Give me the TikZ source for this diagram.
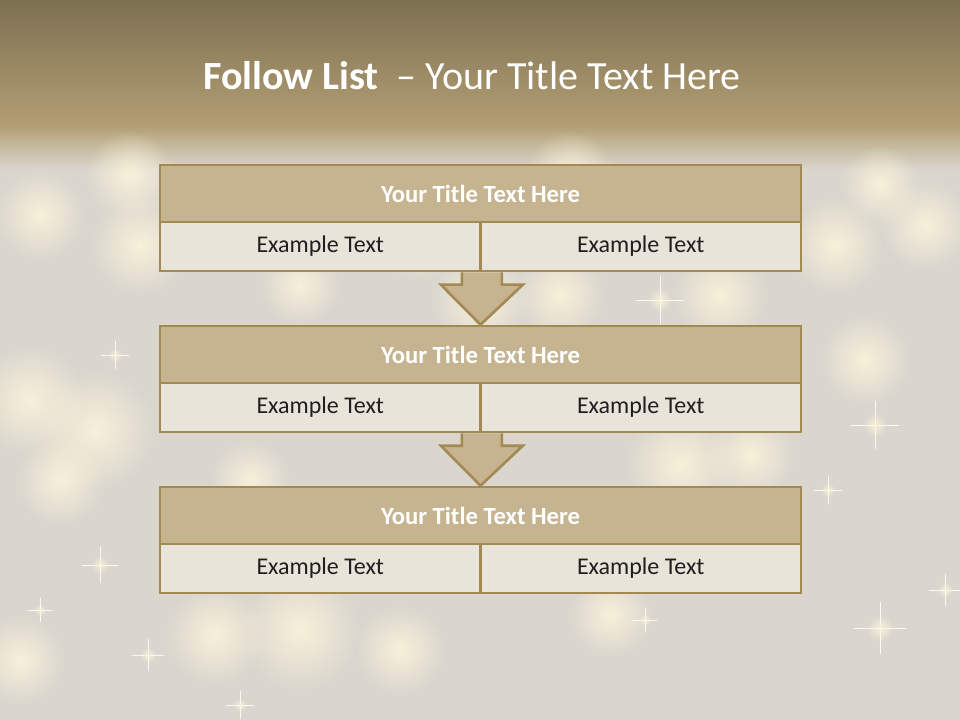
\documentclass[tikz,border=0pt]{standalone}
\usepackage{fontspec}
\setmainfont{Carlito}
\usetikzlibrary{calc, fadings, positioning}

\definecolor{bandtop}{HTML}{7D7051}
\definecolor{bandbottom}{HTML}{B29E74}
\definecolor{haze}{HTML}{DAD6CE}
\definecolor{goldline}{HTML}{A38A55}
\definecolor{tanfill}{HTML}{C5B48F}
\definecolor{creamfill}{HTML}{E9E4DA}
\definecolor{bokeh}{HTML}{FCF5DC}

\tikzfading[name=softglow, inner color=transparent!0, outer color=transparent!100]

\begin{document}
\begin{tikzpicture}[x=0.75pt, y=-0.75pt,
  headbox/.style={draw=goldline, line width=2pt, fill=tanfill, minimum width=480.75pt, minimum height=42.75pt, inner sep=0pt, text=white, font=\bfseries\fontsize{18.5}{22}\selectfont},
  cellbox/.style={draw=goldline, line width=2pt, fill=creamfill, minimum width=240.4pt, minimum height=36.75pt, inner sep=0pt, text=black!88, font=\fontsize{18}{22}\selectfont},
  flowarrow/.style={draw=goldline, line width=2pt, fill=tanfill, line join=miter},
  glow/.style={fill=bokeh, opacity=0.85, path fading=softglow},
  sparkle/.style={draw=white, line width=0.7pt, opacity=0.85, line cap=round}]
  \useasboundingbox (0,0) rectangle (960,720);

  % Background: haze, title band and its soft edge
  \fill[haze] (0,0) rectangle (960,720);
  \shade[top color=bandtop, bottom color=bandbottom] (0,0) rectangle (960,125);
  \shade[top color=bandbottom, bottom color=haze] (0,125) rectangle (960,170);

  % Bokeh lights
  \foreach \bx/\by/\br in {140/245/50, 30/400/55, 95/430/60, 60/480/45, 300/630/60, 215/635/50,
      680/465/55, 750/455/45, 560/295/45, 720/295/48, 835/245/48, 925/225/45, 300/285/40,
      420/240/40, 130/175/45, 570/175/45, 865/360/45, 480/300/50, 400/650/45, 20/660/45,
      610/615/42, 250/480/40, 40/215/45, 880/185/40}
    \fill[glow] (\bx,\by) circle[radius=\br];

  % Sparkles
  \foreach \sx/\sy/\sl in {660/300/24, 875/425/24, 880/628/26, 945/590/16, 100/565/18,
      148/655/16, 40/610/12, 115/355/14, 828/490/14, 240/705/14, 645/620/12}
  {
    \draw[sparkle] (\sx-\sl,\sy) -- (\sx+\sl,\sy) (\sx,\sy-\sl) -- (\sx,\sy+\sl);
    \fill[glow] (\sx,\sy) circle[radius=\sl/2];
  }

  % Slide title
  \node[text=white, font=\fontsize{30}{36}\selectfont] (title) at (472,76)
    {\textbf{Follow List}\ \ – Your Title Text Here};

  % Three stages: title row above two cells
  \foreach \i/\y in {1/165, 2/326, 3/487}
  {
    \node[headbox] (t\i) at (480.5,\y+28.5) {Your Title Text Here};
    \node[cellbox] (l\i) at (320.25,\y+81.5) {Example Text};
    \node[cellbox] (r\i) at (640.75,\y+81.5) {Example Text};
  }

  % Block arrows between the stages
  \foreach \i/\j in {1/2, 2/3}
    \draw[flowarrow] let \p1 = (l\i.south east), \p2 = (t\j.north) in
      (\x1-15pt,\y1) -- (\x1-15pt,\y2+30pt) -- (\x1-30.75pt,\y2+30pt) -- (\x2,\y2)
      -- (\x1+30.75pt,\y2+30pt) -- (\x1+15pt,\y2+30pt) -- (\x1+15pt,\y1);
\end{tikzpicture}
\end{document}
